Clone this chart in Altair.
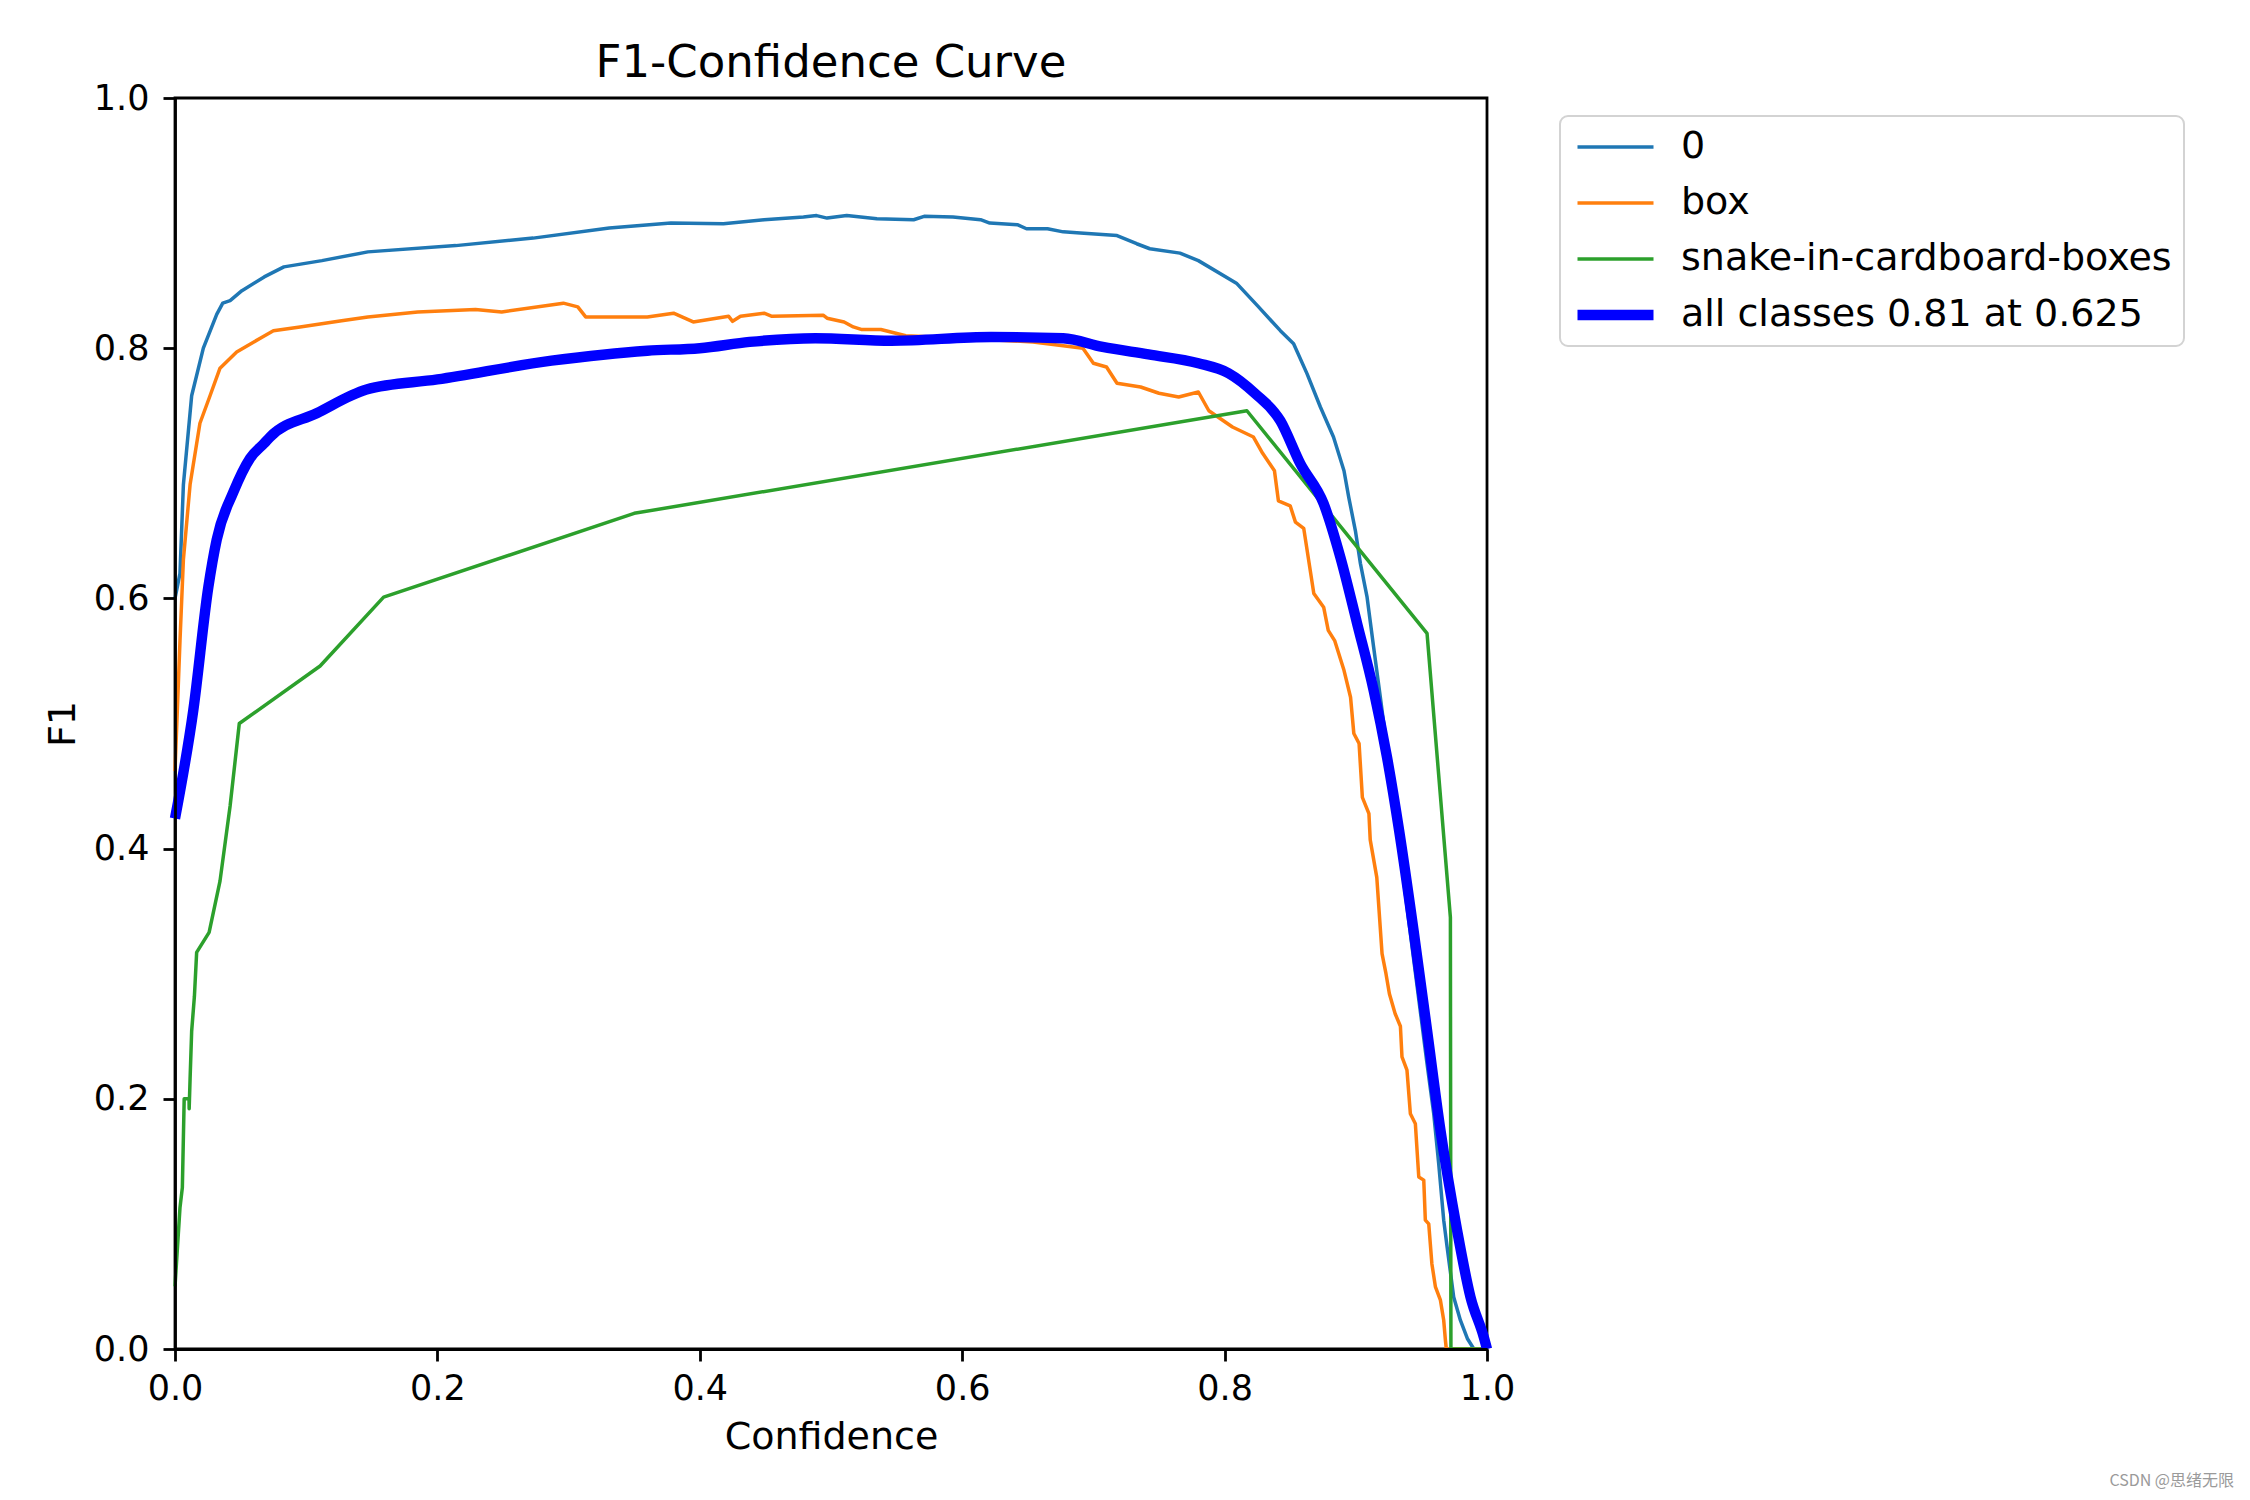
import altair as alt
import pandas as pd

SERIES = ["0", "box", "snake-in-cardboard-boxes", "all classes 0.81 at 0.625"]
COLORS = ["#1f77b4", "#ff7f0e", "#2ca02c", "#0000ff"]
WIDTHS = [3.5, 3.5, 3.5, 10.4]
TICKS = [0.0, 0.2, 0.4, 0.6, 0.8, 1.0]

CONF_0 = [0.0, 0.0038, 0.0064, 0.0127, 0.0216, 0.0318, 0.0364, 0.042, 0.051, 0.068,
          0.083, 0.112, 0.147, 0.214, 0.273, 0.331, 0.378, 0.418, 0.449, 0.479,
          0.489, 0.497, 0.512, 0.535, 0.563, 0.571, 0.593, 0.614, 0.621, 0.642,
          0.649, 0.665, 0.677, 0.690, 0.718, 0.733, 0.743, 0.766, 0.780, 0.809,
          0.825, 0.8425, 0.8526, 0.8628, 0.873, 0.883, 0.891, 0.8946, 0.8997, 0.9035,
          0.9086, 0.9136, 0.9187, 0.930, 0.940, 0.9543, 0.9594, 0.9632, 0.967, 0.9696,
          0.9746, 0.9797, 0.985, 0.990, 1.0]
F1_0 = [0.60, 0.62, 0.691, 0.762, 0.80, 0.827, 0.836, 0.838, 0.846, 0.857,
        0.865, 0.870, 0.877, 0.882, 0.888, 0.896, 0.900, 0.8995, 0.9027, 0.9048,
        0.906, 0.904, 0.906, 0.9035, 0.9027, 0.9054, 0.9048, 0.9027, 0.900, 0.8987,
        0.8955, 0.8955, 0.893, 0.892, 0.890, 0.8835, 0.8795, 0.876, 0.870, 0.852,
        0.834, 0.814, 0.8036, 0.7797, 0.753, 0.729, 0.702, 0.681, 0.654, 0.628,
        0.601, 0.561, 0.521, 0.43, 0.345, 0.228, 0.188, 0.148, 0.103, 0.0816,
        0.0416, 0.023, 0.0084, 0.0, 0.0]

CONF_BOX = [0.0, 0.0038, 0.0064, 0.0115, 0.019, 0.0267, 0.0343, 0.047, 0.065, 0.075,
            0.0953, 0.127, 0.147, 0.185, 0.229, 0.249, 0.296, 0.307, 0.313, 0.36,
            0.38, 0.395, 0.422, 0.425, 0.431, 0.449, 0.455, 0.494, 0.497, 0.51,
            0.517, 0.523, 0.538, 0.557, 0.60, 0.654, 0.677, 0.692, 0.70, 0.71,
            0.718, 0.736, 0.75, 0.765, 0.78, 0.788, 0.806, 0.822, 0.829, 0.838,
            0.841, 0.85, 0.854, 0.8603, 0.868, 0.8755, 0.879, 0.884, 0.891, 0.896,
            0.8985, 0.9025, 0.905, 0.91, 0.911, 0.916, 0.92, 0.923, 0.9256, 0.93,
            0.934, 0.9352, 0.939, 0.9416, 0.9454, 0.948, 0.9518, 0.953, 0.9556, 0.958,
            0.9607, 0.9645, 0.967, 0.9683, 0.969, 1.0]
F1_BOX = [0.462, 0.566, 0.631, 0.691, 0.74, 0.762, 0.784, 0.797, 0.808, 0.814,
          0.817, 0.822, 0.825, 0.829, 0.831, 0.829, 0.836, 0.833, 0.825, 0.825,
          0.828, 0.821, 0.8255, 0.8215, 0.8255, 0.828, 0.8255, 0.8264, 0.824, 0.821,
          0.817, 0.815, 0.815, 0.81, 0.808, 0.805, 0.802, 0.80, 0.788, 0.785,
          0.772, 0.769, 0.764, 0.761, 0.765, 0.75, 0.737, 0.729, 0.716, 0.702,
          0.678, 0.674, 0.661, 0.656, 0.604, 0.593, 0.5745, 0.566, 0.5425, 0.521,
          0.492, 0.484, 0.441, 0.428, 0.407, 0.377, 0.316, 0.300, 0.284, 0.268,
          0.258, 0.2335, 0.223, 0.188, 0.180, 0.1375, 0.135, 0.103, 0.100, 0.068,
          0.0496, 0.039, 0.023, 0.007, 0.0, 0.0]

CONF_SNAKE = [0.0, 0.0038, 0.0056, 0.007, 0.0107, 0.0108, 0.0115, 0.0127, 0.0148, 0.0165,
              0.026, 0.0343, 0.042, 0.049, 0.1106, 0.159, 0.35, 0.817, 0.9543, 0.9721,
              0.9725, 1.0]
F1_SNAKE = [0.05, 0.113, 0.129, 0.2, 0.2, 0.192, 0.216, 0.254, 0.282, 0.317,
            0.333, 0.374, 0.434, 0.50, 0.546, 0.601, 0.668, 0.75, 0.572, 0.345,
            0.0, 0.0]

CONF_ALL = [0.0, 0.014, 0.0254, 0.0318, 0.0445, 0.0572, 0.068, 0.0724, 0.108, 0.146,
            0.2, 0.287, 0.36, 0.40, 0.438, 0.488, 0.546, 0.622, 0.677, 0.707,
            0.742, 0.78, 0.803, 0.823, 0.8425, 0.8577, 0.8755, 0.8882, 0.901, 0.9136,
            0.9238, 0.933, 0.944, 0.9543, 0.9645, 0.9772, 0.9874, 0.9975, 1.0]
F1_ALL = [0.424, 0.511, 0.609, 0.647, 0.685, 0.712, 0.724, 0.729, 0.748, 0.767,
          0.775, 0.79, 0.798, 0.80, 0.805, 0.808, 0.806, 0.809, 0.808, 0.801,
          0.795, 0.788, 0.78, 0.764, 0.742, 0.7077, 0.6757, 0.633, 0.58, 0.5265,
          0.473, 0.4146, 0.3347, 0.2548, 0.175, 0.095, 0.0416, 0.0097, 0.0]

WATERMARK = "CSDN @思绪无限"


def frame(name, xs, ys):
    assert len(xs) == len(ys)
    return pd.DataFrame({"conf": xs, "f1": ys, "series": name})


df_classes = pd.concat([
    frame(SERIES[0], CONF_0, F1_0),
    frame(SERIES[1], CONF_BOX, F1_BOX),
    frame(SERIES[2], CONF_SNAKE, F1_SNAKE),
], ignore_index=True)
df_all = frame(SERIES[3], CONF_ALL, F1_ALL)

FONT = "DejaVu Sans"

x_enc = alt.X(
    "conf:Q",
    scale=alt.Scale(domain=[0, 1], nice=False, zero=False),
    axis=alt.Axis(values=TICKS, format=".1f", title="Confidence", labelPadding=10,
                  titlePadding=12, labelFlush=False, zindex=1),
)
y_enc = alt.Y(
    "f1:Q",
    scale=alt.Scale(domain=[0, 1], nice=False, zero=False),
    axis=alt.Axis(values=TICKS, format=".1f", title="F1", labelPadding=14,
                  titlePadding=11, labelFlush=False, zindex=1),
)
legend = alt.Legend(
    title=None, orient="none", legendX=1385, legendY=18,
    symbolType="stroke", symbolSize=5776, clipHeight=38,
    labelFont=FONT, labelFontSize=38, labelColor="black", labelOffset=22,
    labelLimit=2000, rowPadding=18, padding=12,
    strokeColor="#d3d3d3", fillColor="white", cornerRadius=8,
)
color_enc = alt.Color("series:N", scale=alt.Scale(domain=SERIES, range=COLORS),
                      sort=SERIES, legend=legend)
width_enc = alt.StrokeWidth("series:N",
                            scale=alt.Scale(type="ordinal", domain=SERIES, range=WIDTHS),
                            sort=SERIES, legend=legend)

classes = alt.Chart(df_classes).mark_line(strokeJoin="round").encode(
    x=x_enc, y=y_enc, color=color_enc, strokeWidth=width_enc, detail="series:N"
)
overall = alt.Chart(df_all).mark_line(strokeJoin="round", interpolate="monotone").encode(
    x=x_enc, y=y_enc, color=color_enc, strokeWidth=width_enc
)
wm = alt.Chart(pd.DataFrame({"t": [WATERMARK]})).mark_text(
    align="right", baseline="middle", font="Noto Sans CJK SC", fontSize=16, color="#9a9a9a"
).encode(x=alt.value(2059), y=alt.value(1383), text="t:N")

chart = alt.layer(classes, overall, wm).properties(
    width=1312, height=1251,
    autosize=alt.AutoSizeParams(type="none"),
    padding={"left": 175, "top": 98, "right": 763, "bottom": 151},
    background="white",
    title=alt.TitleParams("F1-Confidence Curve", font=FONT, fontSize=45,
                          fontWeight="normal", color="black", anchor="middle",
                          offset=11, dy=16),
).configure_view(
    stroke="black", strokeWidth=2.8
).configure_axis(
    domainColor="black", domainWidth=2.8, tickColor="black", tickWidth=2.8, tickSize=12,
    labelColor="black", titleColor="black", labelFont=FONT, titleFont=FONT,
    labelFontSize=35, titleFontSize=38, titleFontWeight="normal", grid=False,
).configure_legend(
    strokeWidth=2
)

chart.save("out.html", embed_options={"renderer": "svg", "actions": False})
